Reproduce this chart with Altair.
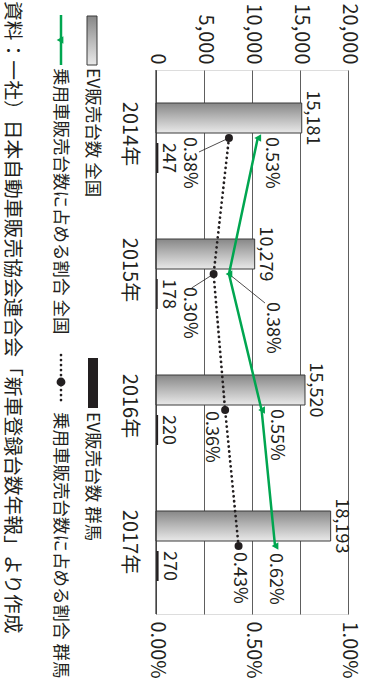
import altair as alt
import pandas as pd

# ---- data ---------------------------------------------------------------
years = ["2014年", "2015年", "2016年", "2017年"]
regions = ["全国", "群馬"]
ev_national = [15181, 10279, 15520, 18193]      # EV sales, whole country
ev_gunma = [247, 178, 220, 270]                  # EV sales, Gunma
share_national = [0.53, 0.38, 0.55, 0.62]        # EV share of passenger-car sales (%)
share_gunma = [0.38, 0.30, 0.36, 0.43]

count_ticks = [0, 5000, 10000, 15000, 20000]
pct_ticks = [0.0, 0.5, 1.0]
legend_labels = [
    "EV販売台数 全国",
    "乗用車販売台数に占める割合 全国",
    "EV販売台数 群馬",
    "乗用車販売台数に占める割合 群馬",
]
source_note = "資料：一社）日本自動車販売協会連合会「新車登録台数年報」より作成"

# ---- styling --------------------------------------------------------------
FONT = "Noto Sans CJK JP"
INK = "#231f20"
GREEN = "#00a650"
GRID = "#5e5e5e"

W, H = 192, 544                 # plot area (the whole figure is turned a quarter turn)
STEP = H / len(years)
BAND = 70                        # height of one year's pair of bars
PAD_INNER = (STEP - BAND) / STEP
PAD_OUTER = PAD_INNER / 2

ev_df = pd.DataFrame({
    "year": years * 2,
    "region": [regions[0]] * len(years) + [regions[1]] * len(years),
    "count": ev_national + ev_gunma,
})
share_df = pd.DataFrame({
    "year": years * 2,
    "idx": list(range(len(years))) * 2,
    "region": [regions[0]] * len(years) + [regions[1]] * len(years),
    "pct": share_national + share_gunma,
})
year_df = pd.DataFrame({"year": years})
one = pd.DataFrame({"k": [0]})

gray_fill = alt.LinearGradient(
    gradient="linear",
    stops=[alt.GradientStop(color="#878787", offset=0),
           alt.GradientStop(color="#b9b9b9", offset=0.5),
           alt.GradientStop(color="#e9e9e9", offset=1)],
    x1=0, x2=0, y1=0, y2=1,
)

# ---- shared encodings -------------------------------------------------------
y_scale = alt.Scale(paddingInner=PAD_INNER, paddingOuter=PAD_OUTER)
y_plain = alt.Y("year:N", sort=years, scale=y_scale, axis=None)
y_off = alt.YOffset("region:N", sort=regions,
                    scale=alt.Scale(domain=regions, paddingInner=0.25, paddingOuter=0))

count_scale = alt.Scale(domain=[0, 20000], nice=False)
count_axis = alt.Axis(
    orient="top", title=None, values=count_ticks,
    labelExpr="format(datum.value, ',')",
    grid=True, gridColor=GRID, gridWidth=1, domain=False, ticks=False,
    labelAngle=90, labelAlign="right", labelBaseline="middle", labelPadding=6,
    labelFlush=False, labelOverlap=False, labelFontSize=20, labelFont=FONT, labelColor=INK,
)
x_count = alt.X("count:Q", scale=count_scale, axis=count_axis)
x_count_plain = alt.X("count:Q", scale=count_scale, axis=None)

pct_scale = alt.Scale(domain=[0, 1], nice=False)
pct_axis = alt.Axis(
    orient="bottom", title=None, values=pct_ticks,
    labelExpr="format(datum.value, '.2f') + '%'",
    grid=False, domain=False, ticks=False,
    labelAngle=90, labelAlign="left", labelBaseline="middle", labelPadding=7,
    labelFlush=False, labelOverlap=False, labelFontSize=20, labelFont=FONT, labelColor=INK,
)
x_pct = alt.X("pct:Q", scale=pct_scale, axis=pct_axis)
x_pct_plain = alt.X("pct:Q", scale=pct_scale, axis=None)

# ---- EV sales bars ------------------------------------------------------------
bar_nat = alt.Chart(ev_df).transform_filter(alt.datum.region == regions[0]).mark_bar(
    fill=gray_fill, stroke="#3a3a3a", strokeWidth=1
).encode(x=x_count, y=y_plain, yOffset=y_off)

bar_gun = alt.Chart(ev_df).transform_filter(alt.datum.region == regions[1]).mark_bar(
    color=INK
).encode(x=x_count_plain, y=y_plain, yOffset=y_off)


def count_labels(region, shift):
    return alt.Chart(ev_df).transform_filter(alt.datum.region == region).transform_calculate(
        label="format(datum.count, ',')"
    ).mark_text(
        angle=90, align="center", baseline="alphabetic", dx=shift, dy=-5,
        font=FONT, fontSize=18, color=INK,
    ).encode(x=x_count_plain, y=y_plain, text="label:N")


# year names along the category side, left of the zero line
year_labels = alt.Chart(year_df).mark_text(
    angle=90, align="center", baseline="top", dx=-4, dy=17,
    font=FONT, fontSize=20, color=INK,
).encode(x=alt.value(0), y=y_plain, text="year:N")

zero_line = alt.Chart(one).mark_rule(color="#333333", strokeWidth=1.2).encode(
    x=alt.value(0), y=alt.value(0), y2=alt.value(H))

# ---- share lines ---------------------------------------------------------------
line_gun = alt.Chart(share_df).transform_filter(alt.datum.region == regions[1]).mark_line(
    color=INK, strokeWidth=2.7, strokeDash=[0.1, 4.9], strokeCap="round"
).encode(x=x_pct, y=y_plain, order="idx:Q")

line_nat = alt.Chart(share_df).transform_filter(alt.datum.region == regions[0]).mark_line(
    color=GREEN, strokeWidth=2.5
).encode(x=x_pct_plain, y=y_plain, order="idx:Q")

pts_gun = alt.Chart(share_df).transform_filter(alt.datum.region == regions[1]).mark_point(
    shape="circle", filled=True, size=64, color=INK, opacity=1
).encode(x=x_pct_plain, y=y_plain)

pts_nat = alt.Chart(share_df).transform_filter(alt.datum.region == regions[0]).mark_point(
    shape="triangle-left", filled=True, size=60, color=GREEN, opacity=1
).encode(x=x_pct_plain, y=y_plain)

# leader lines: (region, year, offset right px, offset down px)
leader_specs = [
    (regions[1], years[0], -30, 14),
    (regions[1], years[1], -22, 14),
    (regions[0], years[1], 36, 29),
]
leaders = []
for region, year, off_x, off_y in leader_specs:
    leaders.append(
        alt.Chart(share_df)
        .transform_filter((alt.datum.region == region) & (alt.datum.year == year))
        .transform_calculate(end_pct=f"datum.pct + {off_x / W}")
        .mark_rule(color=INK, strokeWidth=0.8)
        .encode(
            x=x_pct_plain,
            x2=alt.X2("end_pct"),
            y=alt.Y("year:N", sort=years, scale=y_scale, axis=None, bandPosition=0.5),
            y2=alt.Y2(field="year", bandPosition=0.5 + off_y / BAND),
        )
    )

# share value labels: (region, year, shift along text, shift across text)
share_label_specs = [
    (regions[0], years[0], -1, -13),
    (regions[0], years[1], 28, -43),
    (regions[0], years[2], -1, -14),
    (regions[0], years[3], 7, 0),
    (regions[1], years[0], -1, 40),
    (regions[1], years[1], 13, 25),
    (regions[1], years[2], 1, 14),
    (regions[1], years[3], 6, 0),
]
share_labels = [
    alt.Chart(share_df)
    .transform_filter((alt.datum.region == region) & (alt.datum.year == year))
    .transform_calculate(label="format(datum.pct, '.2f') + '%'")
    .mark_text(angle=90, align="left", baseline="middle", dx=along, dy=across,
               font=FONT, fontSize=18, color=INK)
    .encode(x=x_pct_plain, y=y_plain, text="label:N")
    for region, year, along, across in share_label_specs
]

# ---- legend and source note (turned with the chart) -----------------------------
base = alt.Chart(one)
legend_marks = [
    base.mark_rect(fill=gray_fill, stroke="#3a3a3a", strokeWidth=1).encode(
        x=alt.value(-69), x2=alt.value(-59), y=alt.value(-54), y2=alt.value(-5)),
    base.mark_rule(color=GREEN, strokeWidth=2.5).encode(
        x=alt.value(-95), y=alt.value(-55), y2=alt.value(-5)),
    base.mark_point(shape="triangle-left", filled=True, size=60, color=GREEN, opacity=1).encode(
        x=alt.value(-96), y=alt.value(-30)),
    base.mark_rect(color=INK).encode(
        x=alt.value(-68), x2=alt.value(-58), y=alt.value(288), y2=alt.value(338)),
    base.mark_rule(color=INK, strokeWidth=2.7, strokeDash=[0.1, 4.9], strokeCap="round").encode(
        x=alt.value(-95), y=alt.value(285), y2=alt.value(335)),
    base.mark_point(shape="circle", filled=True, size=78, color=INK, opacity=1).encode(
        x=alt.value(-95), y=alt.value(312)),
]
legend_text_pos = [(-64, -2), (-96, -2), (-64, 342), (-96, 342)]
for (lx, ly), txt in zip(legend_text_pos, legend_labels):
    legend_marks.append(
        base.mark_text(angle=90, align="left", baseline="middle", font=FONT,
                       fontSize=17.5, color=INK)
        .encode(x=alt.value(lx), y=alt.value(ly), text=alt.value(txt))
    )
legend_marks.append(
    base.mark_text(angle=90, align="left", baseline="middle", font=FONT,
                   fontSize=19.8, color=INK)
    .encode(x=alt.value(-144), y=alt.value(-69), text=alt.value(source_note))
)

# every layer sits in one flat layer; the count and share layers each keep
# their own x scale so the two axes can differ
chart = (
    alt.layer(
        bar_nat, bar_gun, count_labels(regions[0], -20), count_labels(regions[1], 20),
        zero_line, year_labels,
        line_gun, line_nat, *leaders, pts_gun, pts_nat, *share_labels,
        *legend_marks,
    )
    .resolve_scale(x="independent")
    .properties(
        width=W, height=H,
        autosize=alt.AutoSizeParams(type="none"),
        padding={"left": 156, "top": 70, "right": 21, "bottom": 65},
        background="white",
    )
    .configure_view(strokeWidth=0, strokeOpacity=0)
    .configure(font=FONT)
)

chart.save("out.html", embed_options={"renderer": "svg", "actions": False})
